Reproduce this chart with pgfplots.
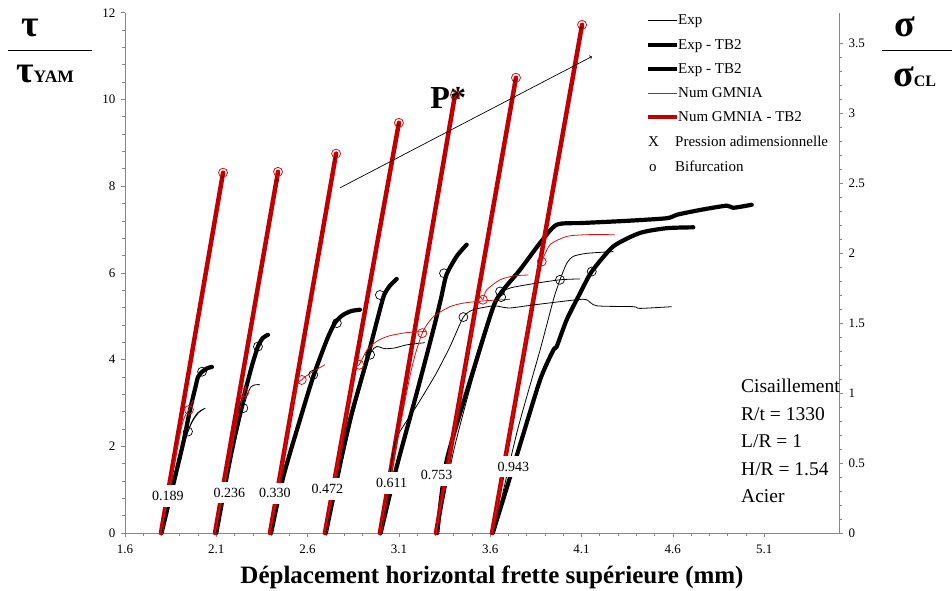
\documentclass[border=0pt]{standalone}
\usepackage{fontspec}
\setmainfont{Liberation Serif}
\usepackage{pgfplots}
\pgfplotsset{compat=1.18}
\definecolor{nred}{RGB}{192,0,0}
\definecolor{tred}{RGB}{215,20,20}
\definecolor{axgray}{RGB}{134,134,134}
\pgfplotsset{
  base/.style={at={(125pt,57pt)}, anchor=south west, scale only axis,
    width=714pt, height=520.3pt, xmin=1.6, xmax=5.51, clip=false,
    tick align=outside, major tick length=4pt, minor tick length=3pt,
    axis line style={axgray, line width=0.8pt},
    every tick/.style={axgray, line width=0.6pt},
    tick label style={font=\fontsize{13}{15}\selectfont, black},
    /pgf/number format/assume math mode=true},
  thickb/.style={black, line width=4.2pt, line cap=round, smooth, tension=0.4},
  thickr/.style={nred, line width=4.5pt, line cap=round},
  thinb/.style={black, line width=0.8pt, smooth, tension=0.4},
  thinr/.style={tred, line width=0.8pt, smooth, tension=0.4},
}
\tikzset{plab/.style={fill=white, inner xsep=4pt, inner ysep=6pt, font=\fontsize{14}{16}\selectfont}}
\begin{document}
\begin{tikzpicture}[x=1pt,y=1pt]
\path[use as bounding box] (0,0) rectangle (952,590);
\begin{axis}[base, ymin=0, ymax=12,
  axis x line*=bottom, axis y line*=left,
  xtick={1.6,2.1,2.6,3.1,3.6,4.1,4.6,5.1}, minor x tick num=4,
  xticklabel style={yshift=-4pt, /pgf/number format/.cd, fixed, precision=1, zerofill},
  ytick={0,2,4,6,8,10,12}, minor y tick num=4,
  yticklabel style={xshift=-2pt},
]
% ---- Exp - TB2 (thick black)
\addplot[thickb] coordinates {(1.80,0) (1.874,1.29) (1.92,2.1) (1.956,2.84) (1.985,3.35) (2.0,3.6) (2.022,3.72) (2.05,3.8) (2.076,3.83)};
\addplot[thickb] coordinates {(2.10,0) (2.157,1.30) (2.20,2.2) (2.246,3.07) (2.294,3.84) (2.328,4.3) (2.355,4.5) (2.383,4.57)};
\addplot[thickb] coordinates {(2.40,0) (2.467,1.30) (2.558,2.61) (2.631,3.61) (2.705,4.45) (2.75,4.85) (2.794,5.03) (2.84,5.12) (2.887,5.15)};
\addplot[thickb] coordinates {(2.70,0) (2.768,1.38) (2.832,2.61) (2.924,3.99) (2.996,5.15) (3.02,5.5) (3.05,5.7) (3.088,5.86)};
\addplot[thickb] coordinates {(3.0,0) (3.088,1.53) (3.197,3.22) (3.288,4.68) (3.33,5.4) (3.36,5.95) (3.416,6.38) (3.471,6.65)};
\addplot[thickb] coordinates {(3.31,0) (3.362,1.68) (3.508,3.76) (3.617,5.22) (3.672,5.61) (3.763,6.07) (3.873,6.69) (3.964,7.11) (4.108,7.15) (4.35,7.2) (4.567,7.26) (4.622,7.34) (4.749,7.45) (4.895,7.55) (4.93,7.5) (5.032,7.57)};
\addplot[thickb] coordinates {(3.614,0) (3.75,1.85) (3.873,3.53) (3.946,4.22) (3.964,4.3) (4.019,4.92) (4.092,5.53) (4.156,6.03) (4.274,6.61) (4.42,6.92) (4.566,7.03) (4.712,7.05)};
% ---- Num GMNIA - TB2 (thick red)
\addplot[thickr] coordinates {(1.797,0) (2.137,8.31)};
\addplot[thickr] coordinates {(2.093,0) (2.438,8.33)};
\addplot[thickr] coordinates {(2.394,0) (2.756,8.75)};
\addplot[thickr] coordinates {(2.695,0) (3.10,9.46)};
\addplot[thickr] coordinates {(2.996,0) (3.407,10.1)};
\addplot[thickr] coordinates {(3.303,0) (3.741,10.5)};
\addplot[thickr] coordinates {(3.610,0) (4.103,11.72)};
% ---- Exp (thin black)
\addplot[thinb] coordinates {(1.80,0) (1.87,1.2) (1.92,2.0) (1.945,2.34) (1.97,2.6) (2.0,2.78) (2.04,2.88)};
\addplot[thinb] coordinates {(1.80,0) (1.90,1.8) (1.96,2.5) (2.0,2.76) (2.03,2.86)};
\addplot[thinb] coordinates {(2.10,0) (2.17,1.5) (2.22,2.4) (2.248,2.88) (2.27,3.2) (2.29,3.37) (2.315,3.42) (2.339,3.42)};
\addplot[thinb] coordinates {(2.40,0) (2.47,1.3) (2.56,2.6) (2.631,3.62)};
\addplot[thinb] coordinates {(2.70,0) (2.78,1.5) (2.86,2.9) (2.942,4.11) (2.978,4.30) (3.006,4.27) (3.03,4.25) (3.08,4.27) (3.143,4.34) (3.243,4.39)};
\addplot[thinb] coordinates {(3.0,0) (3.04,1.0) (3.07,1.9) (3.10,2.3) (3.2,2.95) (3.3,3.65) (3.38,4.3) (3.453,4.98) (3.508,5.15) (3.617,5.24) (3.654,5.22) (3.709,5.19) (3.836,5.26) (4.073,5.38) (4.128,5.38) (4.183,5.24) (4.384,5.22) (4.42,5.18) (4.594,5.22)};
\addplot[thinb] coordinates {(3.31,0) (3.40,1.9) (3.50,3.5) (3.60,4.9) (3.654,5.5) (3.709,5.65) (3.836,5.75) (3.982,5.84) (4.092,5.86)};
\addplot[thinb] coordinates {(3.62,0) (3.745,2.3) (3.873,4.22) (3.946,5.38) (3.982,5.84) (4.019,6.22) (4.055,6.38) (4.128,6.45) (4.274,6.49)};
% ---- Num GMNIA (thin red)
\addplot[thinr] coordinates {(1.797,0) (1.91,2.45) (1.95,2.84) (1.974,3.07)};
\addplot[thinr] coordinates {(2.093,0) (2.22,2.7) (2.253,3.24) (2.262,3.4)};
\addplot[thinr] coordinates {(2.394,0) (2.53,3.2) (2.568,3.53) (2.62,3.7) (2.695,3.88)};
\addplot[thinr] coordinates {(2.695,0) (2.85,3.6) (2.883,3.88) (2.93,4.25) (2.99,4.45) (3.05,4.55) (3.14,4.62) (3.25,4.65)};
\addplot[thinr] coordinates {(2.996,0) (3.16,3.61) (3.228,4.61) (3.289,4.99) (3.38,5.22) (3.45,5.3) (3.554,5.35) (3.708,5.39)};
\addplot[thinr] coordinates {(3.303,0) (3.52,5.1) (3.56,5.38) (3.581,5.61) (3.654,5.84) (3.73,5.93) (3.809,5.95)};
\addplot[thinr] coordinates {(3.61,0) (3.86,6.0) (3.882,6.26) (3.928,6.65) (4.019,6.84) (4.128,6.88) (4.283,6.88)};
% ---- bifurcation markers
\addplot[only marks, mark=o, mark size=4.5pt, mark options={tred, line width=0.8pt}] coordinates {(1.95,2.84) (2.253,3.24) (2.568,3.53) (2.883,3.88) (3.228,4.61) (3.56,5.38) (3.882,6.26) (2.137,8.31) (2.438,8.33) (2.756,8.75) (3.10,9.46) (3.407,10.1) (3.741,10.5) (4.103,11.72)};
\addplot[only marks, mark=o, mark size=4.5pt, mark options={black, line width=0.7pt}] coordinates {(1.945,2.34) (2.022,3.72) (2.248,2.88) (2.328,4.30) (2.631,3.65) (2.76,4.84) (2.942,4.11) (2.996,5.49) (3.347,5.99) (3.453,4.98) (3.654,5.57) (3.66,5.44) (3.982,5.84) (4.156,6.03)};
\addplot[only marks, mark=*, mark size=1.6pt, mark options={nred!60!black}] coordinates {(2.132,8.2) (2.433,8.12) (2.75,8.64) (3.096,9.4) (3.40,10.0) (3.735,10.42) (4.098,11.65)};
% ---- pressure labels
\node[plab] at (axis cs:1.835,0.854) {0.189};
\node[plab] at (axis cs:2.171,0.93) {0.236};
\node[plab] at (axis cs:2.421,0.916) {0.330};
\node[plab] at (axis cs:2.708,1.01) {0.472};
\node[plab] at (axis cs:3.06,1.15) {0.611};
\node[plab] at (axis cs:3.307,1.34) {0.753};
\node[plab] at (axis cs:3.727,1.53) {0.943};
% ---- arrow and P*
\draw[->, line width=0.7pt] (axis cs:2.777,7.96) -- (axis cs:4.157,10.99);
\node[font=\bfseries\fontsize{32}{32}\selectfont] at (axis cs:3.37,10.04) {P*};
\end{axis}
\begin{axis}[base, ymin=0, ymax=3.716,
  axis x line=none, axis y line*=right,
  ytick={0,0.5,1,1.5,2,2.5,3,3.5}, minor y tick num=4,
  yticklabel style={xshift=2pt},
]
\addplot[draw=none] coordinates {(2,0)};
\end{axis}
% x label
\node[anchor=base, font=\bfseries\fontsize{25}{25}\selectfont] at (492,7) {Déplacement horizontal frette supérieure (mm)};
% left fraction
\node[anchor=base, font=\bfseries\fontsize{38}{38}\selectfont, inner sep=0pt] at (30.5,553) {τ};
\draw[line width=1.3pt] (8,539.3) -- (92,539.3);
\node[anchor=base west, inner sep=0pt] at (16,507) {\bfseries\fontsize{38}{38}\selectfont τ\fontsize{17.5}{18}\selectfont YAM};
% right fraction
\node[anchor=base, font=\bfseries\fontsize{38}{38}\selectfont, inner sep=0pt] at (905,553) {σ};
\draw[line width=1.3pt] (882,539.3) -- (952,539.3);
\node[anchor=base west, inner sep=0pt] at (893,503) {\bfseries\fontsize{38}{38}\selectfont σ\fontsize{16}{18}\selectfont CL};
% legend
\begin{scope}[every node/.style={anchor=base west, inner sep=0pt, font=\fontsize{15}{17}\selectfont}]
\draw[black, line width=0.8pt] (648,570) -- (677,570); \node at (678,565) {Exp};
\draw[black, line width=4pt] (648,545) -- (677,545); \node at (678,540) {Exp - TB2};
\draw[black, line width=3.5pt] (648,521) -- (677,521); \node at (678,516) {Exp - TB2};
\draw[tred, line width=0.8pt] (648,497) -- (677,497); \node at (678,492) {Num GMNIA};
\draw[nred, line width=4pt] (648,473) -- (677,473); \node at (678,468) {Num GMNIA - TB2};
\node at (648,443) {X}; \node at (675,443) {Pression adimensionnelle};
\node at (649,418) {o}; \node at (675,418) {Bifurcation};
\end{scope}
% text block
\begin{scope}[every node/.style={anchor=base west, inner sep=0pt, font=\fontsize{19.5}{22}\selectfont}]
\node at (741,198) {Cisaillement};
\node at (741,170) {R/t = 1330};
\node at (741,143) {L/R = 1};
\node at (741,115) {H/R = 1.54};
\node at (741,88) {Acier};
\end{scope}
\end{tikzpicture}
\end{document}
